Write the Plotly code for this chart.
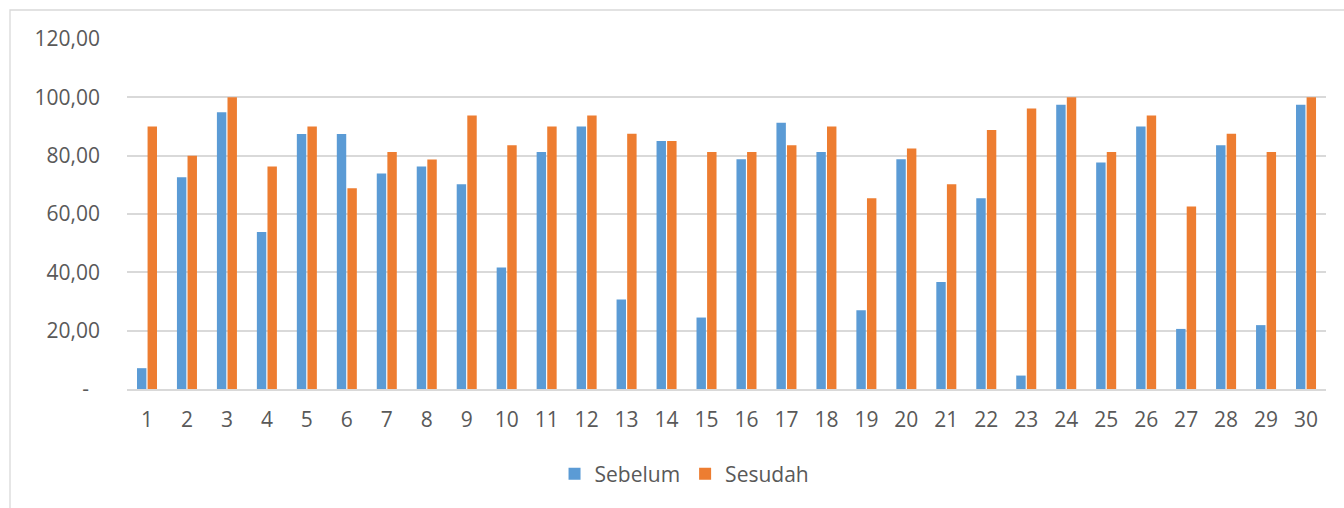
import plotly.graph_objects as go

# Respondent numbers and scores before/after
respondents = [str(i) for i in range(1, 31)]
sebelum = [7.14, 72.60, 94.90, 53.80, 87.40, 87.40, 73.90, 76.30, 70.20, 41.70,
           81.25, 90.00, 30.70, 85.00, 24.50, 78.80, 91.30, 81.25, 27.00, 78.80,
           36.70, 65.40, 4.60, 97.50, 77.70, 90.00, 20.60, 83.60, 21.90, 97.50]
sesudah = [90.00, 80.00, 100.00, 76.30, 90.00, 68.80, 81.25, 78.70, 93.75, 83.60,
           90.00, 93.75, 87.50, 85.00, 81.25, 81.25, 83.60, 90.00, 65.40, 82.50,
           70.20, 88.80, 96.20, 100.00, 81.25, 93.75, 62.60, 87.50, 81.25, 100.00]

y_ticks = [0, 20, 40, 60, 80, 100, 120]
y_tick_text = ["-\u00a0\u00a0", "20,00", "40,00", "60,00", "80,00", "100,00", "120,00"]

W, H = 1344, 508
ML, MR, MT, MB = 127, 18, 39, 119
PW, PH = W - ML - MR, H - MT - MB

FONT = "Open Sans"
TXT = "#595959"
GRID = "#D9D9D9"

fig = go.Figure()
fig.add_trace(go.Bar(x=respondents, y=sebelum, name="Sebelum",
                     marker=dict(color="#5B9BD5", line=dict(width=0))))
fig.add_trace(go.Bar(x=respondents, y=sesudah, name="Sesudah",
                     marker=dict(color="#ED7D31", line=dict(width=0))))

# outer chart frame
fig.add_shape(type="rect", xref="paper", yref="paper",
              x0=(10 - ML) / PW, x1=(W + 5 - ML) / PW,
              y0=(H - MB - (H + 5)) / PH, y1=(H - MB - 10) / PH,
              line=dict(color=GRID, width=1.3), fillcolor="rgba(0,0,0,0)",
              layer="below")

fig.update_layout(
    width=W, height=H,
    margin=dict(l=ML, r=MR, t=MT, b=MB),
    paper_bgcolor="white", plot_bgcolor="white",
    barmode="group", bargap=0.47, bargroupgap=0.11,
    font=dict(family=FONT, size=21, color=TXT),
    showlegend=True,
    legend=dict(orientation="h", x=0.465, xanchor="center",
                y=(H - MB - 474) / PH, yanchor="middle",
                font=dict(family=FONT, size=21, color=TXT),
                itemwidth=30, traceorder="normal"),
    xaxis=dict(type="category", showgrid=False, showline=True,
               linecolor=GRID, linewidth=1.5, ticks="",
               ticklabelstandoff=11, tickfont=dict(size=21, color=TXT)),
    yaxis=dict(range=[0, 120], tickvals=y_ticks, ticktext=y_tick_text,
               showgrid=True, gridcolor=GRID, gridwidth=1.5,
               zeroline=False, showline=False, ticks="",
               ticklabelstandoff=26, tickfont=dict(size=21, color=TXT)),
)

fig.write_html("out.html")
